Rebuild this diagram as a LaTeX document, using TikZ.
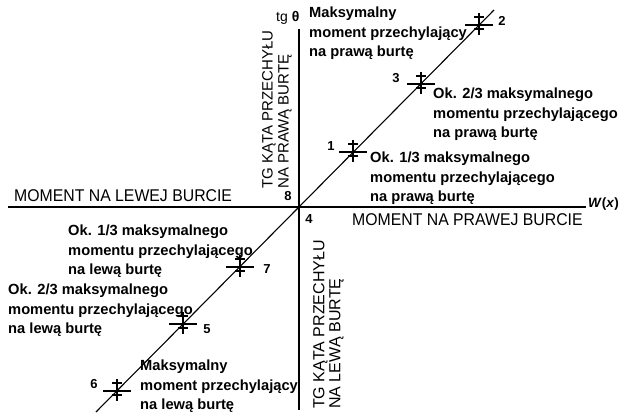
\documentclass[tikz,border=0pt]{standalone}
\usepackage{fontspec}
\setmainfont{Liberation Sans}
\newfontfamily\capsfont[FakeStretch=0.93]{Liberation Sans}
\begin{document}
\begin{tikzpicture}[x=1pt,y=-1pt,
  axis/.style={line width=1.2pt},
  diag/.style={line width=1.1pt},
  mk/.style={line width=1.1pt},
  lab/.style={font=\bfseries\fontsize{14.7}{19.5}\selectfont, align=left, inner sep=0pt, anchor=north west},
  caps/.style={font=\capsfont\fontsize{17}{19}\selectfont, inner sep=0pt, anchor=base west},
  vcap/.style={align=left, inner sep=0pt, anchor=north west, rotate=90},
  num/.style={font=\bfseries\fontsize{13}{15}\selectfont, inner sep=0pt, anchor=base}]
\useasboundingbox (0,0) rectangle (630,415);
\fill[white] (0,0) rectangle (630,415);
\coordinate (O) at (299,207);
\coordinate (xl) at (8,207);
\coordinate (xr) at (586,207);
\coordinate (yt) at (299,29);
\coordinate (yb) at (299,410);
\coordinate (dl) at (96,412);
\coordinate (du) at (494,10);
\draw[axis] (xl) -- (xr);
\draw[axis] (yt) -- (yb);
\draw[diag] (dl) -- (du);
% markers
\coordinate (m2) at (479,25);
\coordinate (m3) at (421,84);
\coordinate (m1) at (353,152);
\coordinate (m7) at (240,267);
\coordinate (m5) at (183,324);
\coordinate (m6) at (117,391);
\foreach \m in {m1,m2,m3,m5,m6,m7}{
  \draw[mk, shift={(\m)}] (0,-12) -- (0,10) (-5,-8) -- (5,-8) (-14,0) -- (14,0) (-5,4) -- (5,4);
}
\node[num] (n2) at (502,25) {2};
\node[num] (n3) at (396,82) {3};
\node[num] (n1) at (331,150) {1};
\node[num] (n7) at (267,273) {7};
\node[num] (n5) at (207,333) {5};
\node[num] (n6) at (94,388) {6};
\node[num] (n8) at (288,200) {8};
\node[num] (n4) at (309,223) {4};
% axis labels
\node[caps] (lewa) at (14,201) {MOMENT NA LEWEJ BURCIE};
\node[caps] (prawa) at (352,225) {MOMENT NA PRAWEJ BURCIE};
\node[inner sep=0pt, anchor=west, font=\bfseries\fontsize{13.5}{16}\selectfont] (wx) at (588,204) {\textit{W}(\textit{x})};
\node[inner sep=0pt, anchor=base west, font=\fontsize{14}{16}\selectfont] (tg) at (276,21) {tg \textbf{θ}};
\node[vcap, font=\fontsize{15}{16}\selectfont] (vup) at (262,189) {TG KĄTA PRZECHYŁU\\NA PRAWĄ BURTĘ};
\node[vcap, font=\fontsize{16}{16}\selectfont] (vdn) at (313,409) {TG KĄTA PRZECHYŁU\\NA LEWĄ BURTĘ};
% descriptive labels
\node[lab] (t2) at (309,7) {Maksymalny\\moment przechylający\\na prawą burtę};
\node[lab] (t3) at (433,88) {Ok. 2/3 maksymalnego\\momentu przechylającego\\na prawą burtę};
\node[lab] (t1) at (370,152) {Ok. 1/3 maksymalnego\\momentu przechylającego\\na prawą burtę};
\node[lab] (t7) at (68,225) {Ok. 1/3 maksymalnego\\momentu przechylającego\\na lewą burtę};
\node[lab] (t5) at (8,284) {Ok. 2/3 maksymalnego\\momentu przechylającego\\na lewą burtę};
\node[lab] (t6) at (140,360) {Maksymalny\\moment przechylający\\na lewą burtę};
\end{tikzpicture}
\end{document}
